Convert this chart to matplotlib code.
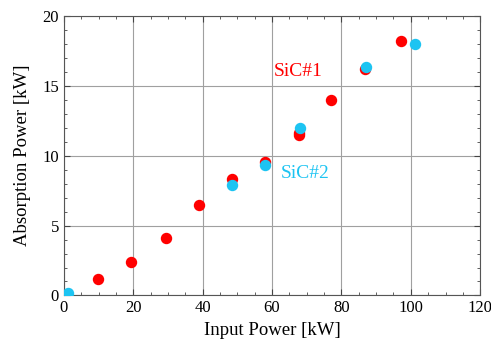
import numpy as np
import matplotlib
matplotlib.use('Agg')
import matplotlib.pyplot as plt
from matplotlib.ticker import MultipleLocator

plt.rcParams['font.family'] = ['Liberation Serif', 'DejaVu Serif']

# SiC#1 (red)
x1 = [9.9, 19.5, 29.4, 39.0, 48.6, 58.0, 67.7, 67.9, 77.1, 86.9, 97.3]
y1 = [1.16, 2.38, 4.12, 6.49, 8.33, 9.55, 11.51, 11.65, 13.97, 16.18, 18.18]
# SiC#2 (blue)
x2 = [1.25, 48.5, 58.1, 68.0, 87.2, 101.2]
y2 = [0.2, 7.88, 9.34, 12.0, 16.34, 17.99]

red = '#FF0000'
blue = '#1DC4F2'

fig = plt.figure(figsize=(4.91, 3.40), dpi=100)
ax = fig.add_axes([0.130, 0.131, 0.848, 0.822])

ax.plot(x1, y1, 'o', color=red, markersize=7.2, zorder=3)
ax.plot(x2, y2, 'o', color=blue, markersize=7.2, zorder=4)

ax.text(60.5, 16.0, 'SiC#1', color=red, fontsize=14, va='center')
ax.text(62.5, 8.7, 'SiC#2', color=blue, fontsize=14, va='center')

ax.set_xlim(0, 120)
ax.set_ylim(0, 20)
ax.xaxis.set_major_locator(MultipleLocator(20))
ax.xaxis.set_minor_locator(MultipleLocator(5))
ax.yaxis.set_major_locator(MultipleLocator(5))
ax.yaxis.set_minor_locator(MultipleLocator(1))
ax.tick_params(which='both', direction='in', top=True, right=True, labelsize=12, color='#444444')
ax.tick_params(which='major', length=4)
ax.tick_params(which='minor', length=2)
ax.grid(True, which='major', color='#a0a0a0', linewidth=0.8)
for s in ax.spines.values():
    s.set_color('#555555')

ax.set_xlabel('Input Power [kW]', fontsize=13.5)
ax.set_ylabel('Absorption Power [kW]', fontsize=13.5, labelpad=8)

fig.savefig('out.png', dpi=100)
